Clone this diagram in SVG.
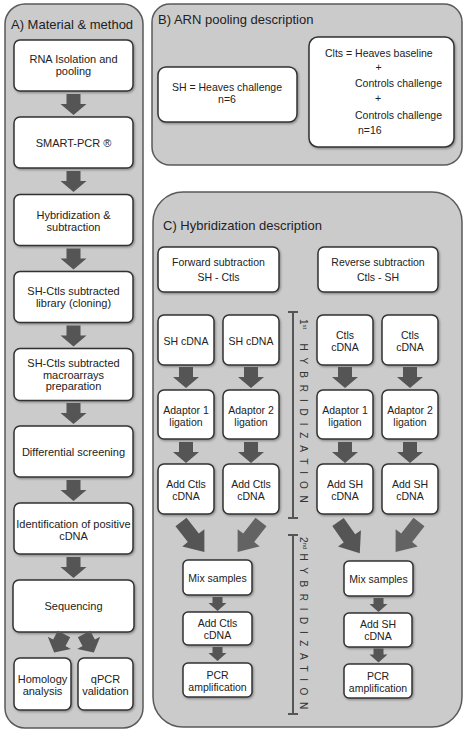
<svg xmlns="http://www.w3.org/2000/svg" xmlns:xlink="http://www.w3.org/1999/xlink" width="467" height="737" viewBox="0 0 467 737">
<style>
text{font-family:"Liberation Sans",Arial,sans-serif;fill:#222}
.panel{fill:#cbcbcb;stroke:#5a5a5a;stroke-width:1.5}
.box{fill:#fff;stroke:#333;stroke-width:1.5;filter:url(#sh)}
.t{font-size:11px;text-anchor:middle}
.tb{font-size:10.5px}
.tc{font-size:10.5px;text-anchor:middle}
.title{font-size:13px}
.arr{fill:#555}
.arr2{fill:#636363}
.vl{stroke:#555;stroke-width:2;fill:none}
.vt{font-size:10px;fill:#333}
</style>
<defs>
<filter id="sh" x="-10%" y="-10%" width="130%" height="130%"><feDropShadow dx="1" dy="1.2" stdDeviation="0.8" flood-color="#000" flood-opacity="0.35"/></filter>
<path id="aA" d="M-7,0 H7 V10 H13 L0,21 L-13,10 H-7 Z"/>
<path id="aS" d="M-5,0 H5 V6 H9 L0,14 L-9,6 H-5 Z"/>
<path id="aB" d="M-7,0 H7 V20 H14 L0,38 L-14,20 H-7 Z"/>
</defs>

<g id="panelA">
<rect class="panel" x="5" y="4" width="138" height="724" rx="20"/>
<text class="title" x="11" y="28.5">A) Material &amp; method</text>
</g>
<g id="panelB">
<rect class="panel" x="152" y="4" width="310" height="161" rx="18"/>
<text class="title" x="158" y="23.5">B) ARN pooling description</text>
</g>
<g id="panelC">
<rect class="panel" x="153" y="192" width="309" height="535" rx="30"/>
<text class="title" x="163" y="229.5">C) Hybridization description</text>
</g>

<g id="a1"><rect class="box" x="14" y="40" width="119" height="51" rx="6"/><text class="t" x="73.5" y="63">RNA Isolation and</text><text class="t" x="73.5" y="75">pooling</text></g>
<g id="a2"><rect class="box" x="14" y="117" width="119" height="51" rx="6"/><text class="t" x="73.5" y="147">SMART-PCR ®</text></g>
<g id="a3"><rect class="box" x="14" y="194.5" width="119" height="51" rx="6"/><text class="t" x="73.5" y="219">Hybridization &amp;</text><text class="t" x="73.5" y="231">subtraction</text></g>
<g id="a4"><rect class="box" x="14" y="271.5" width="119" height="51" rx="6"/><text class="t" x="73.5" y="295">SH-Ctls subtracted</text><text class="t" x="73.5" y="307">library (cloning)</text></g>
<g id="a5"><rect class="box" x="14" y="348.5" width="119" height="52" rx="6"/><text class="t" x="73.5" y="367">SH-Ctls subtracted</text><text class="t" x="73.5" y="378.5">macroarrays</text><text class="t" x="73.5" y="390">preparation</text></g>
<g id="a6"><rect class="box" x="14" y="426" width="119" height="51" rx="6"/><text class="t" x="73.5" y="456">Differential screening</text></g>
<g id="a7"><rect class="box" x="14" y="503" width="119" height="51" rx="6"/><text class="t" x="73.5" y="528">Identification of positive</text><text class="t" x="73.5" y="540">cDNA</text></g>
<g id="a8"><rect class="box" x="13" y="580" width="121" height="52" rx="6"/><text class="t" x="73.5" y="610">Sequencing</text></g>
<g id="a9"><rect class="box" x="14" y="658" width="57" height="52" rx="6"/><text class="t" x="42.5" y="683">Homology</text><text class="t" x="42.5" y="695">analysis</text></g>
<g id="a10"><rect class="box" x="78" y="658" width="55" height="52" rx="6"/><text class="t" x="105.5" y="683">qPCR</text><text class="t" x="105.5" y="695">validation</text></g>

<g id="b1"><rect class="box" x="158" y="67" width="139" height="55" rx="8"/><text class="tc" x="227" y="91">SH = Heaves challenge</text><text class="tc" x="227" y="103">n=6</text></g>
<g id="b2"><rect class="box" x="309" y="37" width="145" height="110" rx="9"/>
<text class="tb" x="325" y="57">Clts = Heaves baseline</text>
<text class="tb" x="375.5" y="71">+</text>
<text class="tb" x="355" y="87">Controls challenge</text>
<text class="tb" x="375" y="102">+</text>
<text class="tb" x="355" y="119">Controls challenge</text>
<text class="tb" x="358" y="134">n=16</text></g>

<g id="c_fwd"><rect class="box" x="158" y="247" width="121" height="45" rx="6"/><text class="tc" x="218.5" y="266">Forward subtraction</text><text class="tc" x="218.5" y="281">SH - Ctls</text></g>
<g id="c_rev"><rect class="box" x="318" y="247" width="120" height="45" rx="6"/><text class="tc" x="378" y="266">Reverse subtraction</text><text class="tc" x="378" y="281">Ctls - SH</text></g>

<g id="c1"><rect class="box" x="158" y="315" width="56" height="50" rx="6"/><text class="tc" x="186" y="345">SH cDNA</text></g>
<g id="c2"><rect class="box" x="223" y="315" width="56" height="50" rx="6"/><text class="tc" x="251" y="345">SH cDNA</text></g>
<g id="c3"><rect class="box" x="317" y="315" width="56" height="50" rx="6"/><text class="tc" x="345" y="339">Ctls</text><text class="tc" x="345" y="351">cDNA</text></g>
<g id="c4"><rect class="box" x="382" y="315" width="56" height="50" rx="6"/><text class="tc" x="410" y="339">Ctls</text><text class="tc" x="410" y="351">cDNA</text></g>

<g id="c5"><rect class="box" x="158" y="390" width="56" height="49" rx="6"/><text class="tc" x="186" y="414">Adaptor 1</text><text class="tc" x="186" y="426">ligation</text></g>
<g id="c6"><rect class="box" x="223" y="390" width="56" height="49" rx="6"/><text class="tc" x="251" y="414">Adaptor 2</text><text class="tc" x="251" y="426">ligation</text></g>
<g id="c7"><rect class="box" x="317" y="390" width="56" height="49" rx="6"/><text class="tc" x="345" y="414">Adaptor 1</text><text class="tc" x="345" y="426">ligation</text></g>
<g id="c8"><rect class="box" x="382" y="390" width="56" height="49" rx="6"/><text class="tc" x="410" y="414">Adaptor 2</text><text class="tc" x="410" y="426">ligation</text></g>

<g id="c9"><rect class="box" x="158" y="464" width="56" height="50" rx="6"/><text class="tc" x="186" y="488">Add Ctls</text><text class="tc" x="186" y="499.5">cDNA</text></g>
<g id="c10"><rect class="box" x="223" y="464" width="56" height="50" rx="6"/><text class="tc" x="251" y="488">Add Ctls</text><text class="tc" x="251" y="499.5">cDNA</text></g>
<g id="c11"><rect class="box" x="317" y="464" width="56" height="50" rx="6"/><text class="tc" x="345" y="488">Add SH</text><text class="tc" x="345" y="499.5">cDNA</text></g>
<g id="c12"><rect class="box" x="382" y="464" width="56" height="50" rx="6"/><text class="tc" x="410" y="488">Add SH</text><text class="tc" x="410" y="499.5">cDNA</text></g>

<g id="c13"><rect class="box" x="183" y="560" width="69" height="35" rx="5"/><text class="tc" x="217.5" y="582">Mix samples</text></g>
<g id="c14"><rect class="box" x="344" y="561" width="69" height="35" rx="5"/><text class="tc" x="378.5" y="583">Mix samples</text></g>
<g id="c15"><rect class="box" x="183" y="612" width="69" height="33" rx="5"/><text class="tc" x="217.5" y="627">Add Ctls</text><text class="tc" x="217.5" y="639">cDNA</text></g>
<g id="c16"><rect class="box" x="344" y="613" width="68" height="34" rx="5"/><text class="tc" x="378" y="627.5">Add SH</text><text class="tc" x="378" y="640">cDNA</text></g>
<g id="c17"><rect class="box" x="183" y="663" width="69" height="34" rx="5"/><text class="tc" x="217.5" y="679">PCR</text><text class="tc" x="217.5" y="691">amplification</text></g>
<g id="c18"><rect class="box" x="344" y="664" width="68" height="34" rx="5"/><text class="tc" x="378" y="680">PCR</text><text class="tc" x="378" y="692">amplification</text></g>

<g id="hyb1">
<path class="vl" d="M293,312 V518 M288,312 H298 M288,518 H298"/>
<text class="vt" transform="translate(299.5,319) rotate(90)">1<tspan font-size="6" dy="-3">st</tspan></text>
<text class="vt" transform="translate(299.5,343.5) rotate(90)" letter-spacing="6.9">HYBRIDIZATION</text>
</g>
<g id="hyb2">
<path class="vl" d="M293,535 V714 M288,535 H298 M288,714 H298"/>
<text class="vt" transform="translate(299.5,537) rotate(90)">2<tspan font-size="6" dy="-3">nd</tspan></text>
<text class="vt" transform="translate(299.5,553.5) rotate(90)" letter-spacing="6.6">HYBRIDIZATION</text>
</g>

<g id="connectors">
<use class="arr" href="#aA" transform="translate(73.5,94)"/>
<use class="arr" href="#aA" transform="translate(73.5,171)"/>
<use class="arr" href="#aA" transform="translate(73.5,248.5)"/>
<use class="arr" href="#aA" transform="translate(73.5,325.5)"/>
<use class="arr" href="#aA" transform="translate(73.5,403)"/>
<use class="arr" href="#aA" transform="translate(73.5,480)"/>
<use class="arr" href="#aA" transform="translate(73.5,557)"/>
<use class="arr" href="#aA" transform="translate(64,634) rotate(28)"/>
<use class="arr" href="#aA" transform="translate(84,634) rotate(-28)"/>

<use class="arr" href="#aA" transform="translate(186,367)"/>
<use class="arr" href="#aA" transform="translate(251,367)"/>
<use class="arr" href="#aA" transform="translate(345,367)"/>
<use class="arr" href="#aA" transform="translate(410,367)"/>
<use class="arr" href="#aA" transform="translate(186,442)"/>
<use class="arr" href="#aA" transform="translate(251,442)"/>
<use class="arr" href="#aA" transform="translate(345,442)"/>
<use class="arr" href="#aA" transform="translate(410,442)"/>

<use class="arr" href="#aB" transform="translate(181,522) rotate(-38)"/>
<use class="arr2" href="#aB" transform="translate(261,522) rotate(38)"/>
<use class="arr" href="#aB" transform="translate(338,522) rotate(-35)"/>
<use class="arr2" href="#aB" transform="translate(419,522) rotate(38)"/>

<use class="arr" href="#aS" transform="translate(217.5,597)"/>
<use class="arr" href="#aS" transform="translate(217.5,647)"/>
<use class="arr" href="#aS" transform="translate(378.5,598)"/>
<use class="arr" href="#aS" transform="translate(378.5,648.5)"/>
</g>
</svg>
